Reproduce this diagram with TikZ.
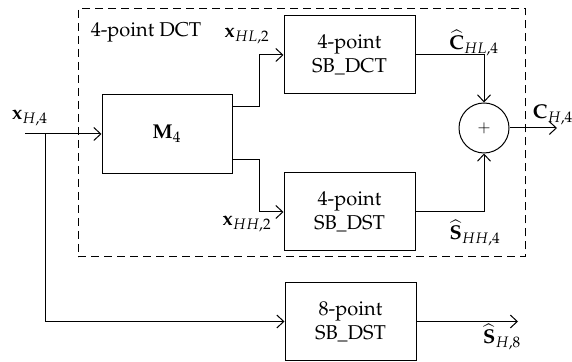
\documentclass[tikz,border=0pt]{standalone}
\usepackage[T1]{fontenc}
\usepackage{mathpazo}
\usetikzlibrary{arrows.meta}
\begin{document}
\begin{tikzpicture}[x=0.5pt,y=-0.5pt,line width=0.5pt,
  blk/.style={draw, minimum width=65.5pt, minimum height=39pt, align=center, inner sep=0pt},
  sig/.style={-{Straight Barb[length=3.5pt,width=6.5pt]}},
  lbl/.style={inner sep=0pt}]
\useasboundingbox (0,0) rectangle (572,362);
% dashed frame of the 4-point DCT
\node[draw, dash pattern=on 4pt off 2.5pt, minimum width=223.75pt, minimum height=124pt, inner sep=0pt] (dct) at (301.75,133) {};
\node[lbl] (dctlbl) at (146,32) {4-point DCT};
% blocks
\node[blk, minimum width=65pt, minimum height=39.5pt] (m4) at (167,134) {$\mathbf{M}_4$};
\node[blk] (dctb) at (349.5,55) {4-point\\SB\_DCT};
\node[blk] (dstb) at (349.5,212) {4-point\\SB\_DST};
\node[blk] (p8) at (350.5,321.5) {8-point\\SB\_DST};
\node[draw, circle, minimum size=25pt, inner sep=0pt] (sum) at (484,128) {\footnotesize $+$};
% input and branch
\coordinate (in) at (25,134);
\coordinate (br) at (45,134);
\draw[sig] (in) -- (m4.west);
\draw[sig] (br) |- (p8.west);
\node[lbl] (xin) at (30,118) {$\mathbf{x}_{H,4}$};
% outputs of M4
\draw[sig] (m4.east) ++(0,-27) -- ++(27,0) |- (dctb.west);
\draw[sig] (m4.east) ++(0,26) -- ++(27,0) |- (dstb.west);
\node[lbl] (xhl) at (247,36) {$\mathbf{x}_{HL,2}$};
\node[lbl] (xhh) at (247,224) {$\mathbf{x}_{HH,2}$};
% to the adder
\draw[sig] (dctb.east) -| (sum.north);
\draw[sig] (dstb.east) -| (sum.south);
\node[lbl] (chl) at (474,43) {$\widehat{\mathbf{C}}_{HL,4}$};
\node[lbl] (shh) at (475,233) {$\widehat{\mathbf{S}}_{HH,4}$};
% outputs
\coordinate (cout) at (557,128);
\draw[sig] (sum.east) -- (cout);
\node[lbl] (ch) at (553,115) {$\mathbf{C}_{H,4}$};
\coordinate (sout) at (518,321.5);
\draw[sig] (p8.east) -- (sout);
\node[lbl] (sh8) at (502,337) {$\widehat{\mathbf{S}}_{H,8}$};
\end{tikzpicture}
\end{document}
